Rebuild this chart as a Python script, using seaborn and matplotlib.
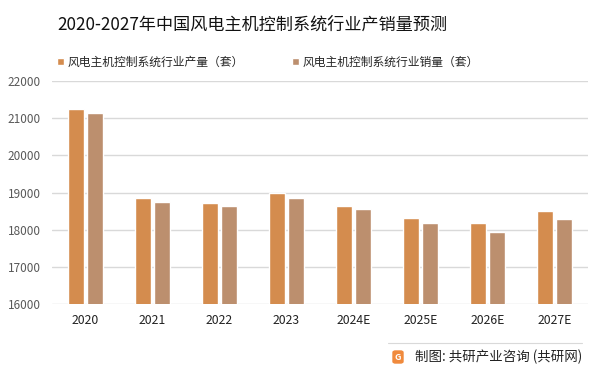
import numpy as np
import pandas as pd
import matplotlib
matplotlib.use("Agg")
import matplotlib.pyplot as plt
import seaborn as sns
from matplotlib.patches import FancyBboxPatch

# 数据
years = ["2020", "2021", "2022", "2023", "2024E", "2025E", "2026E", "2027E"]
production = [21250, 18850, 18720, 18985, 18635, 18315, 18180, 18500]
sales = [21140, 18745, 18635, 18850, 18555, 18180, 17940, 18295]
series_names = ["风电主机控制系统行业产量（套）", "风电主机控制系统行业销量（套）"]
colors = ["#D48C4E", "#BC8F6E"]

title = "2020-2027年中国风电主机控制系统行业产销量预测"
source = "制图: 共研产业咨询 (共研网)"

sns.set_theme(style="white")
plt.rcParams["font.family"] = ["Noto Sans CJK SC", "DejaVu Sans"]

df = pd.DataFrame({
    "year": years * 2,
    "value": production + sales,
    "series": [series_names[0]] * len(years) + [series_names[1]] * len(years),
})

fig = plt.figure(figsize=(6.03, 3.73), dpi=100)
ax = fig.add_axes([52 / 603, 1 - 304 / 373, 536 / 603, 223 / 373])

sns.barplot(data=df, x="year", y="value", hue="series", order=years,
            hue_order=series_names, palette=colors, width=0.567, gap=0.21,
            saturation=1, ax=ax, legend=True)

ax.set_ylim(16000, 22000)
ax.set_yticks(np.arange(16000, 22001, 1000))
ax.set_xlim(-0.5, len(years) - 0.5)
ax.set_xlabel("")
ax.set_ylabel("")
ax.grid(axis="y", color="#D9D9D9", linewidth=1)
ax.set_axisbelow(True)
for s in ax.spines.values():
    s.set_visible(False)
ax.tick_params(axis="y", length=0, labelsize=8.5, labelcolor="#595959", pad=8)
ax.tick_params(axis="x", length=0, labelsize=8.8, labelcolor="#222222", pad=7)

# 图例
handles, labels = ax.get_legend_handles_labels()
ax.get_legend().remove()
fig.legend(handles, labels, loc="center left",
           bbox_to_anchor=(57 / 603, 1 - 62 / 373), ncol=2, frameon=False,
           fontsize=8.5, handlelength=0.6, handleheight=0.6,
           handletextpad=0.3, columnspacing=4.1, borderpad=0, borderaxespad=0)

# 标题
fig.text(57 / 603, 1 - 25 / 373, title, fontsize=12.3, color="#111111",
         ha="left", va="center")

# 底部来源
fig.add_artist(plt.Line2D([388 / 603, 582 / 603], [1 - 343 / 373, 1 - 343 / 373],
                          color="#D9D9D9", linewidth=0.8))
logo = FancyBboxPatch((393 / 603, 1 - 363 / 373), 10 / 603, 12 / 373,
                      boxstyle="round,pad=0,rounding_size=0.004",
                      transform=fig.transFigure, color="#F08A3C")
fig.add_artist(logo)
fig.text(398 / 603, 1 - 357 / 373, "G", fontsize=6.5, color="white",
         fontweight="bold", ha="center", va="center")
fig.text(415 / 603, 1 - 357 / 373, source, fontsize=9.7, color="#222222",
         ha="left", va="center")

fig.savefig("out.png", dpi=100)
